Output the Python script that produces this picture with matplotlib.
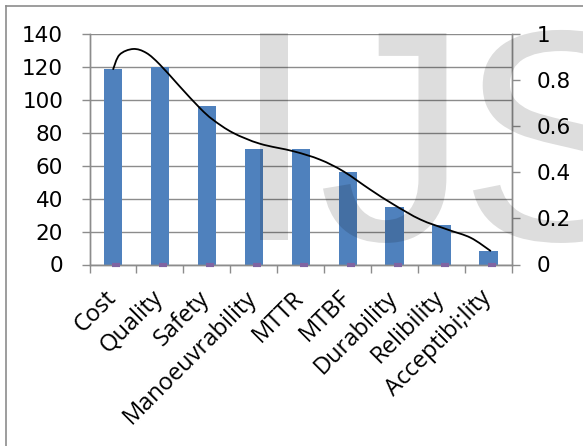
import matplotlib
matplotlib.use("Agg")
import matplotlib.pyplot as plt
import matplotlib.transforms as mtransforms
from matplotlib.path import Path
from matplotlib.patches import PathPatch
from matplotlib.lines import Line2D
from matplotlib.textpath import TextPath
from matplotlib.font_manager import FontProperties

# ---- data -------------------------------------------------------------
categories = ["Cost", "Quality", "Safety", "Manoeuvrability", "MTTR",
              "MTBF", "Durability", "Relibility", "Acceptibi;lity"]
scores = [119, 120, 96, 70, 70, 56, 35, 24, 8]
share = [0, 0, 0, 0, 0, 0, 0, 0, 0]

left_ticks = [0, 20, 40, 60, 80, 100, 120, 140]
left_labels = ["0", "20", "40", "60", "80", "100", "120", "140"]
right_ticks = [0, 0.2, 0.4, 0.6, 0.8, 1]
right_labels = ["0", "0.2", "0.4", "0.6", "0.8", "1"]

# freehand trend curve (category position, secondary-axis value)
trend_x = [0.0, 0.14, 0.43, 0.71, 1.0, 1.42, 1.85, 2.13, 2.56, 3.13,
           3.85, 4.41, 4.91, 5.48, 5.98, 6.55, 7.12, 7.62, 8.05]
trend_y = [0.845, 0.910, 0.935, 0.918, 0.867, 0.773, 0.679, 0.628, 0.571,
           0.524, 0.491, 0.455, 0.404, 0.325, 0.260, 0.195, 0.152, 0.116,
           0.058]

# ---- style ------------------------------------------------------------
W, H = 583, 446
BAR = "#4f81bd"
PURPLE = "#8064a2"
GRID = "#8c8c8c"
TEXT_FONT = ["Open Sans", "DejaVu Sans"]
NUM_FONT = ["DejaVu Sans"]
FS_Y = 15.5
FS_X = 17

plt.rcParams["font.family"] = TEXT_FONT

fig = plt.figure(figsize=(W / 100, H / 100), dpi=100)
fig.patch.set_facecolor("white")

L, R, T, B = 89.5, 512.0, 34.0, 264.5
ax = fig.add_axes([L / W, 1 - B / H, (R - L) / W, (B - T) / H])
ax2 = ax.twinx()

x = list(range(len(categories)))

ax.set_axisbelow(True)
ax.bar(x, scores, width=0.39, color=BAR, zorder=2)
ax.set_xlim(-0.5, len(categories) - 0.5)
ax.set_ylim(0, 140)
ax.set_yticks(left_ticks)
ax.set_yticklabels(left_labels, fontfamily=NUM_FONT, fontsize=FS_Y)
ax.yaxis.grid(True, color=GRID, linewidth=1.0)
ax.set_xticks(x)
ax.set_xticklabels(categories, rotation=45, ha="right", va="top",
                   rotation_mode="anchor", fontsize=FS_X,
                   fontfamily=TEXT_FONT)
ax.tick_params(axis="x", length=0, pad=15.5)
label_shift = mtransforms.ScaledTranslation(-9 / 100, 0, fig.dpi_scale_trans)
for lbl in ax.get_xticklabels():
    lbl.set_transform(lbl.get_transform() + label_shift)
ax.set_xticks([i - 0.5 for i in range(len(categories) + 1)], minor=True)
ax.tick_params(axis="x", which="minor", length=6, width=1.0, color=GRID,
               direction="out")
ax.tick_params(axis="y", length=6, width=1.0, color=GRID, direction="out",
               pad=13)

ax2.set_ylim(0, 1)
ax2.set_yticks(right_ticks)
ax2.set_yticklabels(right_labels, fontfamily=NUM_FONT, fontsize=FS_Y)
ax2.tick_params(axis="y", length=6, width=1.0, color=GRID, direction="out",
                pad=12)

for a in (ax, ax2):
    for side in ("left", "right", "bottom"):
        a.spines[side].set_color(GRID)
        a.spines[side].set_linewidth(1.0)
    a.spines["top"].set_visible(False)

# smooth trend curve through the sampled points (Catmull-Rom as Beziers)
pts = list(zip(trend_x, trend_y))
verts = [pts[0]]
codes = [Path.MOVETO]
for i in range(len(pts) - 1):
    p0 = pts[i - 1] if i > 0 else pts[i]
    p1 = pts[i]
    p2 = pts[i + 1]
    p3 = pts[i + 2] if i + 2 < len(pts) else pts[i + 1]
    c1 = (p1[0] + (p2[0] - p0[0]) / 6, p1[1] + (p2[1] - p0[1]) / 6)
    c2 = (p2[0] - (p3[0] - p1[0]) / 6, p2[1] - (p3[1] - p1[1]) / 6)
    verts += [c1, c2, p2]
    codes += [Path.CURVE4] * 3
ax2.add_patch(PathPatch(Path(verts, codes), facecolor="none",
                        edgecolor="black", linewidth=1.3, zorder=4))

# zero-valued series markers sitting on the baseline
shift = mtransforms.ScaledTranslation(3 / 100, 0, fig.dpi_scale_trans)
ax2.plot(x, share, linestyle="none", marker="_", markersize=6,
         markeredgewidth=3, color=PURPLE, zorder=5, clip_on=False,
         transform=ax2.transData + shift)

# outer frame (top and left edges)
pix = mtransforms.IdentityTransform()
fig.add_artist(Line2D([5.5, 5.5], [-5, H - 5.5], transform=pix,
                      color=GRID, linewidth=1.2))
fig.add_artist(Line2D([5.5, W + 5], [H - 5.5, H - 5.5], transform=pix,
                      color=GRID, linewidth=1.2))

# translucent "IJS" mark
fp = FontProperties(family="Liberation Sans")
ref = TextPath((0, 0), "I", size=100, prop=fp).get_extents()
size = 100 * 207.0 / ref.height
base_y = H - 240.0
for ch, left in (("I", 260.0), ("J", 323.0), ("S", 473.0)):
    tp = TextPath((0, 0), ch, size=size, prop=fp)
    ext = tp.get_extents()
    tr = mtransforms.Affine2D().translate(left - ext.x0, base_y) + pix
    fig.add_artist(PathPatch(tp, transform=tr, facecolor="black",
                             edgecolor="none", alpha=0.135, zorder=10))

fig.savefig("out.png", dpi=100)
